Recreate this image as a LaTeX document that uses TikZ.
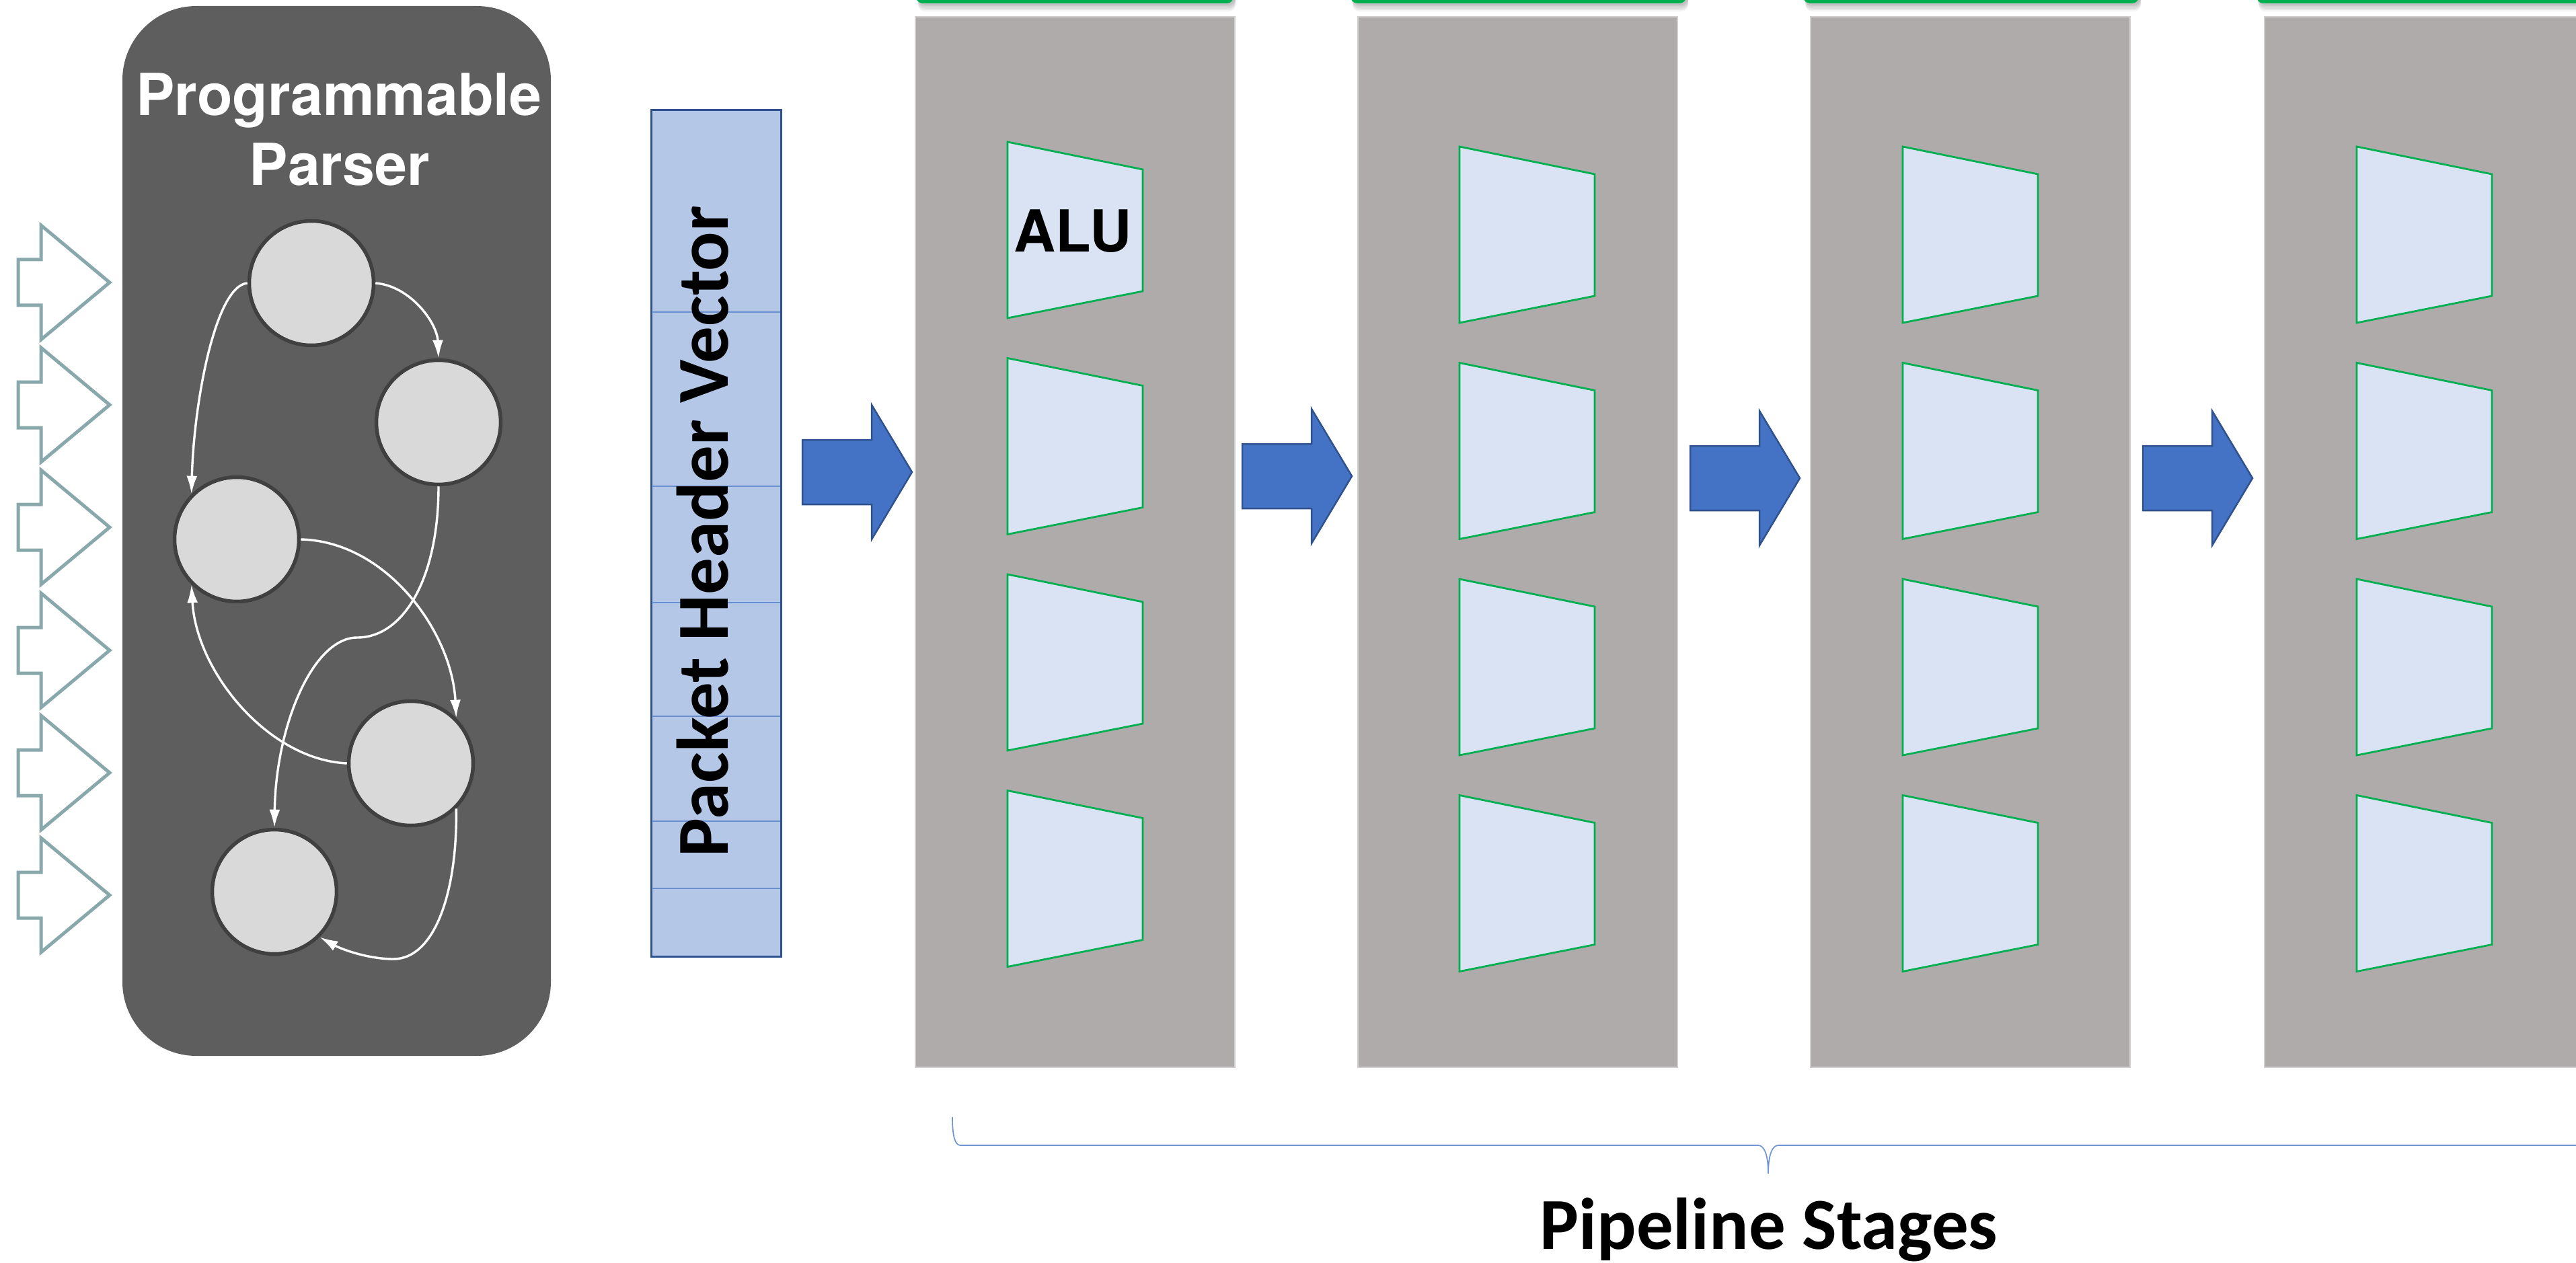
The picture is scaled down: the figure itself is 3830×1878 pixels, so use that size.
\documentclass[tikz,border=0pt]{standalone}
\usepackage{fontspec}
\newfontfamily\herosfont{TeX Gyre Heros}
\newfontfamily\carlfont{Carlito}
\usetikzlibrary{arrows.meta}
\definecolor{parserbg}{HTML}{5E5E5E}
\definecolor{statefill}{HTML}{D9D9D9}
\definecolor{statedraw}{HTML}{404040}
\definecolor{inarrow}{HTML}{88A8AC}
\definecolor{phvfill}{HTML}{B4C7E7}
\definecolor{phvdraw}{HTML}{2F528F}
\definecolor{phvline}{HTML}{6A8FD0}
\definecolor{stagefill}{HTML}{AFABAB}
\definecolor{stageedge}{HTML}{D0CECE}
\definecolor{alugreen}{HTML}{00B050}
\definecolor{alufill}{HTML}{DAE3F3}
\definecolor{flowblue}{HTML}{4472C4}
\definecolor{flowdraw}{HTML}{2F528F}
\definecolor{bracecol}{HTML}{6F93D3}

\begin{document}
\begin{tikzpicture}[x=0.1mm, y=-0.1mm,
  state/.style={circle, fill=statefill, draw=statedraw, line width=0.55mm,
    minimum size=18.5mm, inner sep=0},
  edge/.style={draw=white, line width=0.34mm,
    -{Latex[length=2.7mm, width=1.6mm]}},
  inputarrow/.style={draw=inarrow, line width=0.5mm, line join=miter},
  stagebox/.style={fill=stagefill, draw=stageedge, line width=0.12mm,
    minimum width=47.5mm, minimum height=156.2mm, inner sep=0},
  alu/.style={fill=alufill, draw=alugreen, line width=0.28mm},
  flowarrow/.style={fill=flowblue, draw=flowdraw, line width=0.25mm},
  helvbold/.style={font=\herosfont\bfseries\fontsize{24.5pt}{29pt}\selectfont, inner sep=0},
  calibold/.style={font=\carlfont\bfseries\fontsize{31pt}{37pt}\selectfont, inner sep=0},
]
\useasboundingbox (0,0) rectangle (3830,1878);
\fill[white] (0,0) rectangle (3830,1878);
\clip (0,0) rectangle (3830,1878);

% ---------------- programmable parser ----------------
\fill[parserbg, rounded corners=11mm] (182,9) rectangle (819,1570);
\node[helvbold, white, anchor=base] (ptitlea) at (504,172) {Programmable};
\node[helvbold, white, anchor=base] (ptitleb) at (505,276) {Parser};

\node[state] (s1) at (463,421) {};
\node[state] (s2) at (652,628) {};
\node[state] (s3) at (352,802) {};
\node[state] (s4) at (611,1135) {};
\node[state] (s5) at (408,1326) {};

\draw[edge] (s1.east) .. controls (610,425) and (650,480) .. (s2.north);
\draw[edge] (s1.west) .. controls (320,425) and (288,600) .. (s3.135);
\draw[edge] (s2.south) .. controls (652,860) and (600,948) .. (531,948)
                       .. controls (465,948) and (410,1080) .. (s5.north);
\draw[edge] (s3.east) .. controls (575,805) and (672,940) .. (s4.45);
\draw[edge] (s4.west) .. controls (400,1130) and (292,1000) .. (s3.225);
\draw[edge] (s4.-45) .. controls (680,1330) and (645,1426) .. (585,1426)
                     .. controls (545,1426) and (505,1410) .. (s5.-45);

% input ports
\foreach \ty in {420,602,784,967,1149,1331}
  \draw[inputarrow] (27,\ty-34) -- (61,\ty-34) -- (61,\ty-85) -- (163,\ty)
     -- (61,\ty+85) -- (61,\ty+34) -- (27,\ty+34) -- cycle;

% ---------------- packet header vector ----------------
\node[fill=phvfill, draw=phvdraw, line width=0.3mm, minimum width=19.3mm,
      minimum height=125.9mm, inner sep=0] (phv) at (1064.5,792.5) {};
\foreach \yy in {464,723,896,1065,1221,1321}
  \draw[phvline, line width=0.15mm] (969,\yy) -- (1160,\yy);
\node[calibold, rotate=90] (phvlabel) at (1045,790) {Packet Header Vector};

% ---------------- pipeline stages ----------------
\foreach \a/\b in {1362/1834, 2008/2507, 2681/3180, 3355/3900} {
  \foreach \i in {1,...,6}
    \fill[black, opacity=0.045, rounded corners=1mm] (\a+3,-40) rectangle (\b+3,5+2*\i);
  \fill[alugreen, rounded corners=1mm] (\a,-40) rectangle (\b,5);
}

\node[stagebox] (stA) at (1598.5,806) {};
\node[stagebox] (stB) at (2256.5,806) {};
\node[stagebox] (stC) at (2929.5,806) {};
\node[stagebox] (stD) at (3604.5,806) {};

\foreach \lx/\ty in {1498/211, 2170/218, 2829/218, 3504/218}
  \foreach \k in {0,1,2,3} {
    \pgfmathsetmacro\tt{\ty+321.5*\k}
    \draw[alu] (\lx,\tt) -- (\lx+201,\tt+41) -- (\lx+201,\tt+222)
       -- (\lx,\tt+262) -- cycle;
  }
\node[helvbold, anchor=base] (alulabel) at (1595,375) {ALU};

% flow arrows between blocks
\foreach \x/\c in {1193/702, 1847/708, 2513/711, 3186/711}
  \draw[flowarrow] (\x,\c-48) -- (\x+103,\c-48) -- (\x+103,\c-100) -- (\x+163,\c)
     -- (\x+103,\c+100) -- (\x+103,\c+48) -- (\x,\c+48) -- cycle;

% brace under the stages
\coordinate (bl) at (1416,1661);
\coordinate (btip) at (2629,1745);
\coordinate (br) at (3900,1703);
\draw[bracecol, line width=0.17mm]
  (bl) .. controls (1416,1690) and (1420,1703) .. (1428,1703) -- (2614,1703)
  .. controls (2624,1703) and (2629,1720) .. (btip)
  .. controls (2629,1720) and (2634,1703) .. (2644,1703) -- (br);
\node[calibold, anchor=base] (stageslabel) at (2630,1857) {Pipeline Stages};
\end{tikzpicture}
\end{document}
